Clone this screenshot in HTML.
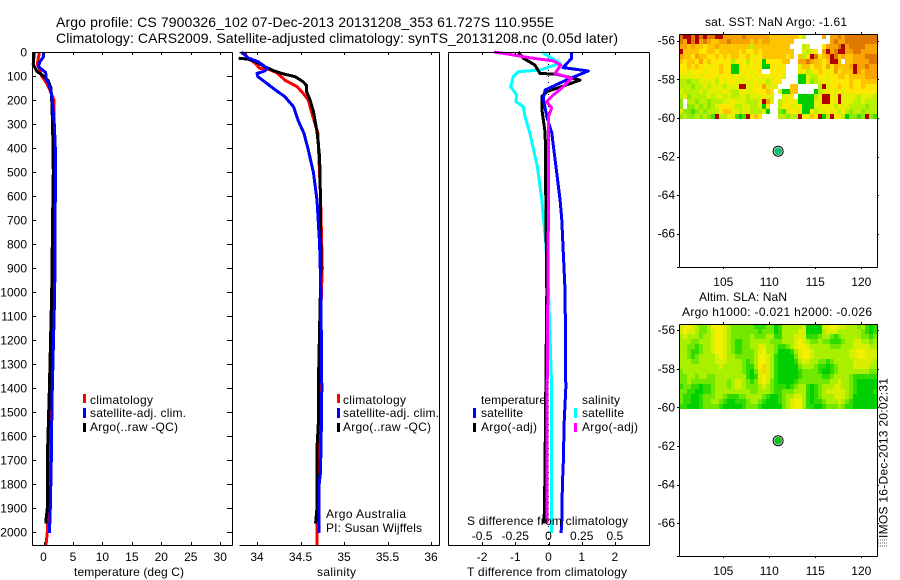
<!DOCTYPE html>
<html lang="en">
<head>
<meta charset="utf-8">
<title>Argo profile 7900326</title>
<style>
html,body{margin:0;padding:0;background:#fff;width:900px;height:580px;overflow:hidden}
svg{display:block}
text{font-family:"Liberation Sans",sans-serif;font-size:12px;fill:#000}
.t14{font-size:14px}
.ax{stroke:#000;stroke-width:1;fill:none;shape-rendering:crispEdges}
.prof{fill:none;stroke-width:3;stroke-linejoin:round;shape-rendering:crispEdges}
</style>
</head>
<body>
<svg id="chart" xmlns="http://www.w3.org/2000/svg" width="900" height="580" viewBox="0 0 900 580">
  <rect x="0" y="0" width="900" height="580" fill="#fff"/>
  <g id="maps"></g>
  <g id="profiles"></g>
  <g id="axes"></g>

  <text class="t14" x="56" y="27" textLength="498">Argo profile: CS 7900326_102 07-Dec-2013 20131208_353 61.727S 110.955E</text>
  <text class="t14" x="56" y="43" textLength="562">Climatology: CARS2009. Satellite-adjusted climatology: synTS_20131208.nc (0.05d later)</text>

  <text x="74" y="576" textLength="110">temperature (deg C)</text>
  <text x="317" y="576" textLength="39">salinity</text>
  <text x="467" y="576" textLength="160">T difference from climatology</text>
  <text x="467" y="525" textLength="161">S difference from climatology</text>

  <g>
    <rect x="83" y="394" width="3" height="9" fill="#f00"/>
    <text x="90" y="404" textLength="63">climatology</text>
    <rect x="83" y="408" width="3" height="10" fill="#00f"/>
    <text x="90" y="417" textLength="96">satellite-adj. clim.</text>
    <rect x="83" y="423" width="3" height="9" fill="#000"/>
    <text x="90" y="431" textLength="88">Argo(..raw -QC)</text>
  </g>
  <g>
    <rect x="337" y="394" width="3" height="9" fill="#f00"/>
    <text x="343" y="404" textLength="63">climatology</text>
    <rect x="337" y="408" width="3" height="10" fill="#00f"/>
    <text x="343" y="417" textLength="96">satellite-adj. clim.</text>
    <rect x="337" y="423" width="3" height="9" fill="#000"/>
    <text x="343" y="431" textLength="88">Argo(..raw -QC)</text>
  </g>
  <text x="326" y="518" textLength="80">Argo Australia</text>
  <text x="326" y="532" textLength="96">PI: Susan Wijffels</text>

  <g>
    <text x="481" y="404" textLength="65">temperature</text>
    <rect x="473" y="408" width="3" height="10" fill="#00f"/>
    <text x="481" y="417" textLength="42">satellite</text>
    <rect x="473" y="423" width="3" height="9" fill="#000"/>
    <text x="481" y="431" textLength="56">Argo(-adj)</text>
    <text x="582" y="404" textLength="38">salinity</text>
    <rect x="574" y="408" width="3" height="10" fill="#0ff"/>
    <text x="582" y="417" textLength="42">satellite</text>
    <rect x="574" y="423" width="3" height="9" fill="#f0f"/>
    <text x="582" y="431" textLength="56">Argo(-adj)</text>
  </g>

  <text x="705" y="26" textLength="142">sat. SST: NaN Argo: -1.61</text>
  <text x="699" y="301" textLength="88">Altim. SLA: NaN</text>
  <text x="682" y="316" textLength="190">Argo h1000: -0.021 h2000: -0.026</text>

  <g stroke="#555" stroke-width="1" stroke-dasharray="1 1" shape-rendering="crispEdges">
    <line x1="878" y1="540" x2="887" y2="540"/>
    <line x1="878" y1="543" x2="887" y2="543"/>
    <line x1="878" y1="546" x2="887" y2="546"/>
  </g>
  <text transform="translate(887.5,538) rotate(-90)" textLength="160">IMOS 16-Dec-2013 20:02:31</text>
</svg>

<script>
// ---------- depth levels and profile values ----------
const tempClimDepth = [0,50,80,100,130,150,200,300,600,1000,1500,1700,1900,2000,2054];
const tempClim = [-0.7,-1.05,-0.6,-0.3,0.54,0.93,1.78,1.8,1.85,1.5,1.2,0.95,0.82,0.65,0.42];
const tempSatDepth = [0,20,40,60,70,85,110,130,160,200,300,400,600,1000,1400,1550,1700,1900,2005];
const tempSat = [0.03,0.0,-0.6,-0.88,-0.4,0.37,0.42,0.82,1.22,1.5,1.84,2.0,2.0,1.9,1.5,1.4,1.33,1.16,1.0];
const tempArgoDepth = [0,50,80,100,120,150,200,300,500,600,1000,1400,1500,1700,1900,1950,1964];
const tempArgo = [-1.55,-1.75,-1.15,0,0.8,1.27,1.4,1.55,1.67,1.6,1.4,1.0,0.88,0.65,0.65,0.42,0.42];

const salClimDepth = [0,20,47,68,71,89,117,144,172,200,254,338,600,900,1000,1400,2000,2054];
const salClim = [33.86,33.88,33.98,34.03,34.13,34.24,34.32,34.46,34.53,34.59,34.63,34.70,34.73,34.75,34.74,34.72,34.69,34.69];
const salSatDepth = [0,25,40,68,79,89,103,130,158,186,228,283,339,408,504,617,800,1000,1400,1550,1750,1800,2005];
const salSat = [33.82,33.9,34.01,34.12,34.09,34.0,34.01,34.11,34.21,34.32,34.42,34.47,34.54,34.59,34.65,34.69,34.72,34.735,34.745,34.74,34.73,34.715,34.715];
const salArgoDepth = [26,30,40,61,79,93,103,124,140,165,200,249,332,436,617,900,1400,1550,1650,1900,1960,1964];
const salArgo = [33.79,33.9,33.98,34.09,34.2,34.32,34.44,34.53,34.57,34.57,34.61,34.65,34.69,34.72,34.73,34.735,34.705,34.705,34.69,34.69,34.675,34.675];

const dtSatDepth = [0,26,65,79,110,158,192,269,338,617,700,1000,1400,1550,1700,1800,1950,2005];
const dtSat = [0.7,0.7,0.44,1.2,0.65,-0.1,-0.16,-0.05,0.1,0.35,0.4,0.5,0.52,0.47,0.45,0.42,0.4,0.38];
const dtArgoDepth = [0,26,54,89,93,117,144,165,186,249,338,617,1000,1400,1650,1900,1964];
const dtArgo = [-0.91,-0.76,-0.41,-0.26,0.25,0.95,0.4,-0.05,-0.2,-0.19,-0.1,-0.08,-0.05,-0.08,-0.1,-0.12,-0.14];
const dsSatDepth = [0,20,47,75,82,103,144,179,207,228,269,338,477,617,800,1000,1400,1800,2005];
const dsSat = [-0.05,0.01,0.087,-0.064,-0.227,-0.265,-0.285,-0.24,-0.245,-0.19,-0.177,-0.14,-0.084,-0.05,-0.02,0,0.024,0.024,0.022];
const dsArgoDepth = [0,10,24,37,54,89,110,150,179,207,233,269,600,1400,1964];
const dsArgo = [-0.41,-0.29,-0.14,0.036,0.092,0.049,0.175,0.1,0.036,-0.014,0.024,0,0,-0.01,-0.01];

// ---------- tick labels ----------
const depthTicks = [0,100,200,300,400,500,600,700,800,900,1000,1100,1200,1300,1400,1500,1600,1700,1800,1900,2000];
const tempTicks = [0,5,10,15,20,25,30];
const salTicks = [34,34.5,35,35.5,36];
const dtTicks = [-2,-1,0,1,2];
const dsTicks = [-0.5,-0.25,0,0.25,0.5];
const latTicks = [-56,-58,-60,-62,-64,-66];
const lonTicks = [105,110,115,120];

// ---------- map data: colour levels, _ = no data ----------
const _ = null;
const sstColors = ['#00cc00','#48dc00','#8ee800','#b8f000','#e0f000','#ffe800','#ffc400','#f8a400','#e07800','#b00000'];
const slaColors = ['#00d000','#30dc00','#70e800','#a8f000','#d8f000','#f4f000','#ffd000'];
const argoLon = [110.955];
const argoLat = [-61.727];
const sstGrid = [
[8,9,9,8,9,8,9,8,8,9,9,7,7,7,7,7,8,7,7,7,7,7,7,6,6,6,6,6,6,6,5,3,_,_,_,_,7,_,7,7,8,7,8,8,8,8,8,8,8,8],
[8,7,9,8,9,7,8,7,6,6,7,7,8,7,7,7,7,7,6,7,6,7,7,6,6,6,6,6,6,_,_,_,_,_,_,_,_,_,7,8,7,7,8,8,8,8,8,8,8,8],
[7,7,6,7,6,6,5,6,6,7,6,6,6,6,6,6,6,6,3,6,6,6,6,6,6,6,6,6,_,_,_,3,4,_,_,_,5,7,7,7,8,9,7,8,8,8,8,7,7,7],
[9,6,6,6,6,5,5,6,6,5,6,6,6,6,6,5,6,5,5,6,5,6,6,6,6,6,6,6,6,_,_,4,3,4,5,_,7,9,7,8,9,9,7,7,8,8,7,7,7,7],
[7,6,6,5,7,6,6,5,5,6,5,6,5,6,6,5,5,6,5,4,5,6,6,6,6,6,6,5,6,_,6,3,5,9,8,5,6,7,9,8,6,7,6,6,7,7,7,8,8,8],
[6,5,6,6,5,7,5,6,5,5,5,5,5,3,5,5,5,3,5,5,5,0,5,5,5,5,6,6,_,_,7,7,8,7,6,6,5,6,9,9,6,_,6,6,7,7,7,7,8,8],
[5,5,6,5,6,5,5,4,5,5,6,5,5,0,0,5,5,4,5,5,5,0,0,5,5,5,5,_,_,_,4,6,6,5,6,6,5,7,5,7,6,6,6,7,9,7,7,8,7,7],
[5,5,4,5,5,5,4,5,5,5,6,5,5,0,0,5,5,5,4,5,5,_,_,5,5,5,5,_,_,_,5,5,3,4,5,6,5,5,4,7,5,6,6,6,9,7,6,7,7,7],
[4,4,4,4,5,4,5,5,5,4,5,5,5,4,5,4,4,5,5,4,5,4,5,4,5,5,4,_,_,_,0,0,4,3,3,5,5,4,5,5,6,6,5,6,6,6,6,7,7,7],
[3,3,2,3,3,4,4,4,4,3,5,4,5,5,4,4,4,4,4,5,4,4,3,4,5,5,_,_,_,_,0,0,4,2,3,4,5,4,5,5,5,5,5,6,5,5,6,6,6,6],
[3,3,3,2,3,3,4,3,4,4,4,3,4,4,5,9,9,4,4,5,5,7,4,4,4,_,_,_,6,6,_,_,_,_,_,3,9,4,5,5,6,5,5,6,5,5,6,5,5,5],
[4,3,3,3,3,4,3,4,4,4,4,5,4,3,3,4,5,4,4,5,5,5,6,5,_,4,0,0,6,6,_,_,_,_,0,3,4,5,5,4,5,4,5,5,5,5,5,5,5,5],
[3,4,2,3,3,3,3,4,3,4,4,3,4,3,3,4,4,3,4,4,4,5,4,4,_,_,4,4,5,_,0,0,0,0,3,4,9,9,5,4,9,4,4,4,4,3,4,4,4,3],
[2,_,3,3,2,3,3,2,3,3,3,4,4,5,4,4,4,3,3,3,4,9,7,4,_,3,4,5,5,4,0,0,0,0,4,4,9,9,5,4,9,4,4,4,3,3,4,3,3,3],
[2,_,2,2,3,2,3,2,3,4,5,5,5,4,3,3,4,4,3,3,4,0,5,_,_,3,5,5,4,4,5,0,0,0,4,4,5,4,5,3,5,4,4,3,3,3,3,2,3,3],
[4,2,2,1,2,3,2,3,3,3,5,6,6,4,4,3,4,4,3,3,3,4,0,_,_,2,1,4,5,5,4,0,0,5,3,4,4,5,4,5,3,5,3,2,3,3,2,3,3,3],
[2,3,2,2,3,2,3,2,1,9,3,3,4,4,1,0,1,9,5,6,5,_,_,_,_,3,3,2,3,3,9,5,4,6,5,9,0,3,9,5,5,3,0,2,2,1,2,9,2,1]
];
const slaGrid = [
[4,5,5,4,3,2,2,3,5,5,5,4,3,2,2,2,2,2,2,1,1,1,2,2,0,1,3,3,3,3,3,4,0,0,0,0,4,4,5,5,4,4,3,3,3,2,3,1,0,1],
[4,5,4,4,3,2,2,3,4,5,5,4,3,2,2,2,2,2,2,2,1,2,2,2,0,1,3,3,3,3,4,4,0,0,0,0,3,4,4,4,3,3,3,3,3,3,2,1,0,1],
[3,4,3,3,3,2,3,3,4,5,5,4,3,2,2,2,2,2,3,2,2,2,3,3,1,1,3,3,3,4,4,4,1,1,1,2,3,3,2,1,2,3,3,3,3,3,2,2,1,2],
[3,3,3,2,2,3,3,3,4,5,5,4,3,2,1,1,2,2,3,3,3,3,3,2,2,2,3,3,3,4,5,4,3,2,2,3,2,2,1,1,1,2,3,3,4,4,3,3,2,3],
[3,3,2,2,1,2,3,3,4,5,5,4,3,2,1,1,2,2,3,3,4,4,3,3,2,1,1,2,3,4,5,5,4,3,3,3,3,3,2,2,2,3,3,3,4,4,4,4,3,3],
[3,3,2,1,1,2,3,3,4,5,5,4,3,2,1,1,2,2,2,3,4,5,3,3,2,0,0,0,1,3,4,5,5,4,3,3,3,3,3,3,3,3,3,4,4,5,5,4,4,4],
[3,3,2,1,2,3,3,3,3,4,5,4,3,3,2,2,2,2,2,3,5,5,4,3,1,0,0,0,0,2,4,5,5,4,3,3,3,3,3,3,3,3,3,4,4,5,5,4,4,4],
[3,3,3,2,2,3,3,3,3,4,4,4,3,3,3,3,2,1,2,3,5,5,4,3,1,0,0,0,0,1,3,4,4,3,3,2,2,1,2,3,3,3,3,3,4,4,4,4,4,3],
[3,3,3,3,3,3,3,3,3,3,4,3,3,3,3,3,2,1,1,3,5,6,4,3,1,0,0,0,0,0,2,3,3,3,2,1,1,0,1,2,3,3,3,3,4,4,4,4,3,3],
[2,3,3,3,3,3,3,3,3,3,3,3,3,3,3,3,2,1,0,2,4,6,4,3,1,0,0,0,0,0,1,2,2,2,2,1,0,0,1,2,3,3,3,3,3,3,3,3,2,2],
[2,2,3,3,2,3,3,2,2,3,3,3,3,3,3,3,3,1,0,1,4,5,4,3,1,0,0,0,0,0,1,2,2,2,2,2,1,1,2,3,3,3,3,2,1,1,1,1,1,1],
[2,2,3,2,2,2,2,2,2,3,3,3,2,3,4,4,3,2,1,2,4,5,4,2,1,0,0,0,0,1,2,2,2,2,2,2,2,2,3,3,4,3,3,2,1,0,0,0,0,0],
[1,2,2,1,1,0,1,1,2,3,3,3,2,3,4,4,3,2,2,2,3,4,3,2,1,1,1,0,1,2,3,3,1,0,1,2,3,3,3,4,4,3,3,2,1,0,0,0,0,0],
[2,2,1,1,0,0,1,1,2,3,3,3,3,3,3,3,3,3,2,2,3,3,3,2,1,1,2,2,2,3,3,3,1,0,1,2,3,4,4,4,4,4,3,2,1,0,0,0,0,1],
[2,1,1,0,0,1,2,2,2,3,3,2,1,1,1,2,2,3,3,3,3,2,1,0,0,1,2,3,3,4,4,3,1,0,1,2,3,3,3,4,4,4,3,2,0,0,0,0,0,0],
[2,1,1,0,0,1,2,2,3,3,2,1,0,0,1,1,1,2,3,3,2,1,0,0,0,1,2,3,4,5,5,3,1,0,1,1,2,3,3,3,4,3,2,1,0,0,0,0,0,0],
[1,1,0,0,0,1,2,2,2,2,1,0,0,0,0,0,1,2,2,2,1,0,0,0,0,0,2,3,4,5,5,3,1,1,0,0,1,2,2,2,3,2,1,1,0,0,0,0,0,0]
];

// ---------- axis functions ----------
const NS = 'http://www.w3.org/2000/svg';
const yDepth = d => 52 + 0.24 * d;
const xTemp = t => 43.5 + 5.89 * t;
const xSal = s => 257 + 87 * (s - 34);
const xDT = t => 548.5 + 33.2 * t;
const xDS = s => 548.5 + 132.8 * s;
const xLon = lon => 769.3 + 9.2 * (lon - 110);
const yLatA = lat => 40.7 + 19.3 * (-56 - lat);
const yLatB = lat => 330.2 + 19.3 * (-56 - lat);

const LON_MIN = 100.2, LON_MAX = 121.72, LAT_TOP = -55.66, LAT_BOTTOM_A = -60.07, LAT_TOP_B = -55.69, LAT_BOTTOM_B = -60.06;

function mk(parent, tag, attrs, txt) {
  const el = document.createElementNS(NS, tag);
  for (const k in attrs) el.setAttribute(k, attrs[k]);
  if (txt !== undefined) el.textContent = txt;
  parent.appendChild(el);
  return el;
}
const axes = document.getElementById('axes');
const profiles = document.getElementById('profiles');
const maps = document.getElementById('maps');

function axisLine(x1, y1, x2, y2) {
  const el = mk(axes, 'line', {x1: x1, y1: y1, x2: x2, y2: y2, class: 'ax'});
  
  
  return el;
}
function tick(x1, y1, x2, y2) {
  const el = mk(axes, 'line', {x1: x1, y1: y1, x2: x2, y2: y2, class: 'ax'});
  
  
  return el;
}
function label(x, y, txt, anchor) {
  const el = mk(axes, 'text', {x: x, y: y, 'text-anchor': anchor || 'middle'}, txt);
  
  
  return el;
}
function profile(depths, values, xFn, color, name) {
  const pts = depths.map((d, i) => xFn(values[i]).toFixed(1) + ',' + yDepth(d).toFixed(1)).join(' ');
  const el = mk(profiles, 'polyline', {points: pts, class: 'prof', stroke: color});
  
  
  return el;
}
const R = v => Math.round(v) + 0.5;

// ---------- profile panel frames ----------
const P1 = {l: 32, r: 232}, P2 = {l: 239, r: 439}, P3 = {l: 448, r: 649};
const TOP = 52, BOT = 545;

// panel 1
axisLine(P1.l + .5, TOP + .5, P1.r + .5, TOP + .5);
axisLine(P1.l + .5, BOT + .5, P1.r + .5, BOT + .5);
axisLine(P1.l + .5, TOP + .5, P1.l + .5, BOT + .5);
axisLine(P1.r + .5, TOP + .5, P1.r + .5, BOT + .5);
depthTicks.forEach(d => {
  const y = R(yDepth(d));
  tick(P1.l, y, P1.l + 4, y);
  tick(P1.r - 5, y, P1.r, y);
  label(27, yDepth(d) + 4.5, String(d), 'end');
});
tempTicks.forEach(t => {
  const x = R(xTemp(t));
  tick(x, TOP, x, TOP + 3);
  tick(x, BOT - 3, x, BOT);
  label(xTemp(t), 561, String(t));
});

// panel 2
axisLine(P2.l + .5, TOP + .5, P2.r + .5, TOP + .5);
axisLine(P2.l + .5, BOT + .5, P2.r + .5, BOT + .5);
axisLine(P2.r + .5, TOP + .5, P2.r + .5, BOT + .5);
salTicks.forEach(s => {
  const x = R(xSal(s));
  tick(x, TOP, x, TOP + 3);
  tick(x, BOT - 3, x, BOT);
  label(xSal(s), 561, String(s));
});

// panel 3
axisLine(P3.l + .5, TOP + .5, P3.r + .5, TOP + .5);
axisLine(P3.l + .5, BOT + .5, P3.r + .5, BOT + .5);
axisLine(P3.l + .5, TOP + .5, P3.l + .5, BOT + .5);
axisLine(P3.r + .5, TOP + .5, P3.r + .5, BOT + .5);
dtTicks.forEach(t => {
  const x = R(xDT(t));
  tick(x, TOP, x, TOP + 3);
  tick(x, BOT - 3, x, BOT);
  label(xDT(t), 561, String(t));
});
dsTicks.forEach(s => {
  label(xDS(s), 540, String(s));
});
const zeroLine = mk(profiles, 'line', {x1: 548.5, y1: TOP, x2: 548.5, y2: BOT, stroke: '#000', 'stroke-width': 1, 'stroke-dasharray': '1 5', 'shape-rendering': 'crispEdges'});



// ---------- series ----------
profile(tempClimDepth, tempClim, xTemp, '#f00', 'temperature-climatology-line');
profile(tempArgoDepth, tempArgo, xTemp, '#000', 'temperature-argo-line');
profile(tempSatDepth, tempSat, xTemp, '#00f', 'temperature-satellite-line');

profile(salClimDepth, salClim, xSal, '#f00', 'salinity-climatology-line');
profile(salArgoDepth, salArgo, xSal, '#000', 'salinity-argo-line');
profile(salSatDepth, salSat, xSal, '#00f', 'salinity-satellite-line');

profile(dsSatDepth, dsSat, xDS, '#0ff', 's-difference-satellite-line');
profile(dtArgoDepth, dtArgo, xDT, '#000', 't-difference-argo-line');
profile(dtSatDepth, dtSat, xDT, '#00f', 't-difference-satellite-line');
profile(dsArgoDepth, dsArgo, xDS, '#f0f', 's-difference-argo-line');

// ---------- maps ----------
function heatmap(grid, colors, yFn, latTop, latBottom, name) {
  const rows = grid.length;
  const cols = grid[0].length;
  const dLon = (LON_MAX - LON_MIN) / cols;
  const dLat = (latTop - latBottom) / rows;
  grid.forEach((row, r) => {
    row.forEach((v, c) => {
      if (v === null) return;
      const x0 = Math.round(xLon(LON_MIN + c * dLon));
      const x1 = Math.round(xLon(LON_MIN + (c + 1) * dLon));
      const y0 = Math.round(yFn(latTop - r * dLat));
      const y1 = Math.round(yFn(latTop - (r + 1) * dLat));
      const cell = mk(maps, 'rect', {x: x0, y: y0, width: x1 - x0, height: y1 - y0, fill: colors[v], 'shape-rendering': 'crispEdges'});
      
      
    });
  });
}
heatmap(sstGrid, sstColors, yLatA, LAT_TOP, LAT_BOTTOM_A, 'sst-cell');
heatmap(slaGrid, slaColors, yLatB, LAT_TOP_B, LAT_BOTTOM_B, 'sla-cell');

function mapFrame(top, bottom, yFn, markerFill) {
  const L = 679, Rt = 877;
  axisLine(L + .5, top + .5, Rt + .5, top + .5);
  axisLine(L + .5, bottom + .5, Rt + .5, bottom + .5);
  axisLine(L + .5, top + .5, L + .5, bottom + .5);
  axisLine(Rt + .5, top + .5, Rt + .5, bottom + .5);
  latTicks.forEach(lat => {
    const y = R(yFn(lat));
    tick(L - 2, y, L, y);
    tick(Rt, y, Rt + 2, y);
    label(675, yFn(lat) + 4, String(lat), 'end');
  });
  lonTicks.forEach(lon => {
    const x = R(xLon(lon));
    tick(x, top - 2, x, top);
    tick(x, bottom, x, bottom + 2);
    label(xLon(lon), bottom + 19, String(lon));
  });
  tick(L - 2, bottom + .5, L, bottom + .5);
  argoLon.forEach((lon, i) => {
    const outer = mk(axes, 'circle', {cx: xLon(lon), cy: yFn(argoLat[i]), r: 5, fill: '#fff', stroke: '#000', 'stroke-width': 1});
    
    
    const inner = mk(axes, 'circle', {cx: xLon(lon), cy: yFn(argoLat[i]), r: 3.9, fill: markerFill});
    
    
  });
}
mapFrame(34, 267, yLatA, '#10c070');
mapFrame(324, 556, yLatB, '#10c020');
</script>
</body>
</html>
